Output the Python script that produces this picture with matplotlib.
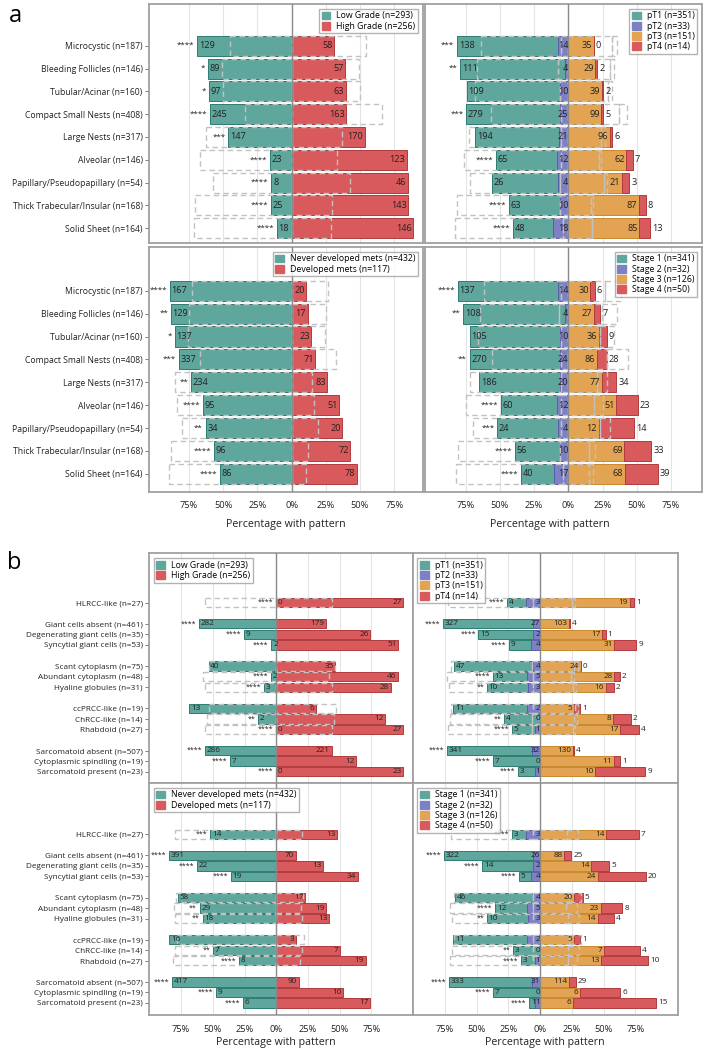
import numpy as np
import matplotlib.pyplot as plt
from matplotlib.patches import Patch

plt.rcParams['font.family'] = ['Open Sans', 'DejaVu Sans']

# ---- data ---------------------------------------------------------------
cats_a = ["Microcystic (n=187)", "Bleeding Follicles (n=146)", "Tubular/Acinar (n=160)",
          "Compact Small Nests (n=408)", "Large Nests (n=317)", "Alveolar (n=146)",
          "Papillary/Pseudopapillary (n=54)", "Thick Trabecular/Insular (n=168)",
          "Solid Sheet (n=164)"]
cats_b = ["HLRCC-like (n=27)", "Giant cells absent (n=461)", "Degenerating giant cells (n=35)",
          "Syncytial giant cells (n=53)", "Scant cytoplasm (n=75)", "Abundant cytoplasm (n=48)",
          "Hyaline globules (n=31)", "ccPRCC-like (n=19)", "ChRCC-like (n=14)", "Rhabdoid (n=27)",
          "Sarcomatoid absent (n=507)", "Cytoplasmic spindling (n=19)", "Sarcomatoid present (n=23)"]
# rows of panel b sit in blocks with a blank row between them
rows_b = [0, 2, 3, 4, 6, 7, 8, 10, 11, 12, 14, 15, 16]
# mutually exclusive blocks in b have no "pattern absent" reference box
ref_box_b = [True, False, False, False, True, True, True, True, True, True, False, False, False]

grade_n = [293, 256]
pt_n = [351, 33, 151, 14]
mets_n = [432, 117]
stage_n = [341, 32, 126, 50]

grade_lbl = ["Low Grade (n=293)", "High Grade (n=256)"]
pt_lbl = ["pT1 (n=351)", "pT2 (n=33)", "pT3 (n=151)", "pT4 (n=14)"]
mets_lbl = ["Never developed mets (n=432)", "Developed mets (n=117)"]
stage_lbl = ["Stage 1 (n=341)", "Stage 2 (n=32)", "Stage 3 (n=126)", "Stage 4 (n=50)"]

# panel a counts
grade_low_a = [129, 89, 97, 245, 147, 23, 8, 25, 18]
grade_high_a = [58, 57, 63, 163, 170, 123, 46, 143, 146]
grade_sig_a = ["****", "*", "*", "****", "***", "****", "****", "****", "****"]

pt1_a = [138, 111, 109, 279, 194, 65, 26, 63, 48]
pt2_a = [14, 4, 10, 25, 21, 12, 4, 10, 18]
pt3_a = [35, 29, 39, 99, 96, 62, 21, 87, 85]
pt4_a = [0, 2, 2, 5, 6, 7, 3, 8, 13]
pt_sig_a = ["***", "**", "", "***", "", "****", "", "****", "****"]

never_a = [167, 129, 137, 337, 234, 95, 34, 96, 86]
devel_a = [20, 17, 23, 71, 83, 51, 20, 72, 78]
mets_sig_a = ["****", "**", "*", "***", "**", "****", "**", "****", "****"]

st1_a = [137, 108, 105, 270, 186, 60, 24, 56, 40]
st2_a = [14, 4, 10, 24, 20, 12, 4, 10, 17]
st3_a = [30, 27, 36, 86, 77, 51, 12, 69, 68]
st4_a = [6, 7, 9, 28, 34, 23, 14, 33, 39]
stage_sig_a = ["****", "**", "", "**", "", "****", "***", "****", "****"]

# panel b counts
grade_low_b = [0, 282, 9, 2, 40, 2, 3, 13, 2, 0, 286, 7, 0]
grade_high_b = [27, 179, 26, 51, 35, 46, 28, 6, 12, 27, 221, 12, 23]
grade_sig_b = ["****", "****", "****", "****", "", "****", "****", "", "**", "****", "****", "****", "****"]

pt1_b = [4, 327, 15, 9, 47, 13, 10, 11, 4, 5, 341, 7, 3]
pt2_b = [3, 27, 2, 4, 4, 5, 3, 2, 0, 1, 32, 0, 1]
pt3_b = [19, 103, 17, 31, 24, 28, 16, 5, 8, 17, 130, 11, 10]
pt4_b = [1, 4, 1, 9, 0, 2, 2, 1, 2, 4, 4, 1, 9]
pt_sig_b = ["****", "****", "****", "****", "", "****", "**", "", "**", "****", "****", "****", "****"]

never_b = [14, 391, 22, 19, 58, 29, 18, 16, 7, 8, 417, 9, 6]
devel_b = [13, 70, 13, 34, 17, 19, 13, 3, 7, 19, 90, 10, 17]
mets_sig_b = ["***", "****", "****", "****", "", "**", "**", "", "**", "****", "****", "****", "****"]

st1_b = [3, 322, 14, 5, 46, 12, 10, 11, 3, 3, 333, 7, 1]
st2_b = [3, 26, 2, 4, 4, 5, 3, 2, 0, 1, 31, 0, 1]
st3_b = [14, 88, 14, 24, 20, 23, 14, 5, 7, 13, 114, 6, 6]
st4_b = [7, 25, 5, 20, 5, 8, 4, 1, 4, 10, 29, 6, 15]
stage_sig_b = ["****", "****", "****", "****", "", "****", "**", "", "**", "****", "****", "****", "****"]

# ---- style --------------------------------------------------------------
TEAL, TEAL_E = '#5fa69c', '#2d7c71'
BLUE, BLUE_E = '#7d80c4', '#5a5ea8'
ORANGE, ORANGE_E = '#e2a352', '#c9892d'
RED, RED_E = '#d95a5c', '#b03b3e'
col2, edg2 = [TEAL, RED], [TEAL_E, RED_E]
col4, edg4 = [TEAL, BLUE, ORANGE, RED], [TEAL_E, BLUE_E, ORANGE_E, RED_E]
FRAME = '#a0a0a0'

W, H = 708, 1055
fig = plt.figure(figsize=(W / 100, H / 100), dpi=100)


def px_axes(x0, y0, x1, y1):
    return fig.add_axes([x0 / W, 1 - y1 / H, (x1 - x0) / W, (y1 - y0) / H])


def stack_lefts(p):
    ng = p.shape[0]
    k = ng // 2
    lefts = np.zeros_like(p)
    cum = np.zeros(p.shape[1])
    for g in range(k - 1, -1, -1):
        cum = cum + p[g]
        lefts[g] = -cum
    cum = np.zeros(p.shape[1])
    for g in range(k, ng):
        lefts[g] = cum
        cum = cum + p[g]
    return lefts


def draw_panel(ax, ypos, counts, group_n, sig, cats, legend_lbl, xlim, ylim,
               ref_mask, legend_loc, bar_h, fs_num, fs_cat, left_col, bottom_row):
    counts = np.array(counts, dtype=float)
    ypos = np.array(ypos)
    ng = counts.shape[0]
    colors, edges = (col2, edg2) if ng == 2 else (col4, edg4)
    modes = ['in_left', 'in_right'] if ng == 2 else ['in_left', 'in_right', 'in_right', 'out_right']

    row_n = counts.sum(0)
    pct = counts / row_n * 100
    total = sum(group_n)
    # reference box: share of each group among cases without the pattern
    ref = (np.array(group_n)[:, None] - counts) / (total - row_n) * 100
    lefts = stack_lefts(pct)
    rlefts = stack_lefts(ref)
    mask = np.array(ref_mask)

    for g in range(ng):
        ax.barh(ypos, pct[g], left=lefts[g], height=bar_h, color=colors[g],
                edgecolor=edges[g], lw=0.7, zorder=2)
    for g in range(ng):
        ax.barh(ypos[mask], ref[g][mask], left=rlefts[g][mask], height=bar_h, fill=False,
                edgecolor='#c2c2c2', lw=1.0, ls=(0, (4, 2.5)), zorder=3)

    for g in range(ng):
        for i, y in enumerate(ypos):
            v = int(counts[g, i])
            x0, x1 = lefts[g, i], lefts[g, i] + pct[g, i]
            if modes[g] == 'in_left':
                xy, dx, ha = (x0, y), 1.2, 'left'
            elif modes[g] == 'in_right':
                xy, dx, ha = (x1, y), -1.2 if g >= ng // 2 else 0, 'right'
            else:
                xy, dx, ha = (x1, y), 1.5, 'left'
            ax.annotate(str(v), xy, xytext=(dx, 0), textcoords='offset points',
                        ha=ha, va='center', fontsize=fs_num, color='#222222', zorder=6)
    for i, y in enumerate(ypos):
        if sig[i]:
            ax.annotate(sig[i], (lefts[0, i], y), xytext=(-2, 0), textcoords='offset points',
                        ha='right', va='center', fontsize=fs_num - 0.8, color='#222222', zorder=6)

    ax.axvline(0, color='#8a8a8a', lw=1.0, zorder=4)
    ax.set_xlim(*xlim)
    ax.set_ylim(*ylim)
    ax.set_xticks([-75, -50, -25, 0, 25, 50, 75])
    ax.grid(axis='x', color='#e4e4e4', lw=0.8, zorder=0)
    ax.set_axisbelow(True)
    if bottom_row:
        ax.set_xticklabels(['75%', '50%', '25%', '0%', '25%', '50%', '75%'], fontsize=6.7,
                           color='#222222')
    else:
        ax.set_xticklabels([])
    ax.tick_params(axis='x', length=0, pad=7)
    if left_col:
        ax.set_yticks(ypos, cats, fontsize=fs_cat, color='#222222')
        ax.tick_params(axis='y', length=3, width=0.6, color='#666666', pad=1.5)
    else:
        ax.set_yticks([])
    for s in ax.spines.values():
        s.set_color(FRAME)
        s.set_linewidth(1.3)

    handles = [Patch(facecolor=colors[g], edgecolor=colors[g]) for g in range(ng)]
    leg = ax.legend(handles, legend_lbl, loc=legend_loc, fontsize=6.3, frameon=True,
                    fancybox=False, edgecolor=FRAME, handlelength=1.0, handleheight=1.0,
                    borderpad=0.3, labelspacing=0.15, handletextpad=0.7, borderaxespad=0.55)
    leg.get_frame().set_linewidth(1.0)
    leg.set_zorder(7)


rows_a = list(range(9))
ref_a = [True] * 9

# panel a
ax = px_axes(149, 4, 423, 243)
draw_panel(ax, rows_a, [grade_low_a, grade_high_a], grade_n, grade_sig_a, cats_a, grade_lbl,
           (-104.3, 96.0), (8.65, -1.83), ref_a, 'upper right', 0.88, 6.6, 6.2, True, False)
ax = px_axes(425, 4, 702, 243)
draw_panel(ax, rows_a, [pt1_a, pt2_a, pt3_a, pt4_a], pt_n, pt_sig_a, cats_a, pt_lbl,
           (-104.7, 97.7), (8.65, -1.83), ref_a, 'upper right', 0.88, 6.6, 6.2, False, False)
ax = px_axes(149, 247, 423, 491.7)
draw_panel(ax, rows_a, [never_a, devel_a], mets_n, mets_sig_a, cats_a, mets_lbl,
           (-104.3, 96.0), (8.78, -1.91), ref_a, 'upper right', 0.88, 6.6, 6.2, True, True)
ax = px_axes(425, 247, 702, 491.7)
draw_panel(ax, rows_a, [st1_a, st2_a, st3_a, st4_a], stage_n, stage_sig_a, cats_a, stage_lbl,
           (-104.7, 97.7), (8.78, -1.91), ref_a, 'upper right', 0.88, 6.6, 6.2, False, True)

# panel b
ax = px_axes(149, 553.3, 412.5, 783)
draw_panel(ax, rows_b, [grade_low_b, grade_high_b], grade_n, grade_sig_b, cats_b, grade_lbl,
           (-100.3, 107.4), (17.07, -4.68), ref_box_b, 'upper left', 0.88, 5.9, 5.9, True, False)
ax = px_axes(412.5, 553.3, 678, 783)
draw_panel(ax, rows_b, [pt1_b, pt2_b, pt3_b, pt4_b], pt_n, pt_sig_b, cats_b, pt_lbl,
           (-100.5, 108.5), (17.07, -4.68), ref_box_b, 'upper left', 0.88, 5.9, 5.9, False, False)
ax = px_axes(149, 783, 412.5, 1015)
draw_panel(ax, rows_b, [never_b, devel_b], mets_n, mets_sig_b, cats_b, mets_lbl,
           (-100.3, 107.4), (17.14, -4.87), ref_box_b, 'upper left', 0.88, 5.9, 5.9, True, True)
ax = px_axes(412.5, 783, 678, 1015)
draw_panel(ax, rows_b, [st1_b, st2_b, st3_b, st4_b], stage_n, stage_sig_b, cats_b, stage_lbl,
           (-100.5, 108.5), (17.14, -4.87), ref_box_b, 'upper left', 0.88, 5.9, 5.9, False, True)

# axis titles and panel letters
for xc, yc in [(286, 524), (550, 524), (275.5, 1042.7), (545, 1042.7)]:
    fig.text(xc / W, 1 - yc / H, "Percentage with pattern", ha='center', va='center',
             fontsize=7.7, color='#222222')
fig.text(9 / W, 1 - 22 / H, "a", fontsize=17, va='baseline', ha='left')
fig.text(7 / W, 1 - 569 / H, "b", fontsize=17, va='baseline', ha='left')

fig.savefig('out.png', dpi=100)
